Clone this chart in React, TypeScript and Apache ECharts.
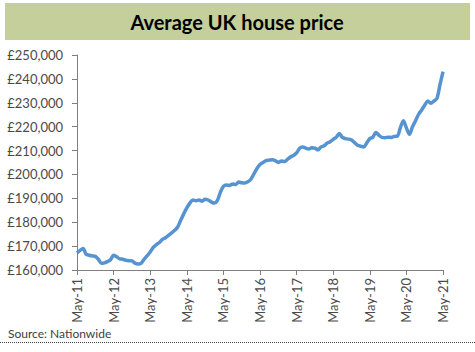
import React, { useEffect, useRef } from "react";
import * as echarts from "echarts";

const MONTHS = ["Jan", "Feb", "Mar", "Apr", "May", "Jun", "Jul", "Aug", "Sep", "Oct", "Nov", "Dec"];
// Monthly categories May-11 .. May-21
const categories: string[] = [];
for (let i = 0; i <= 120; i++) {
  const m = (4 + i) % 12;
  const y = 11 + Math.floor((4 + i) / 12);
  categories.push(`${MONTHS[m]}-${y}`);
}

const prices2011 = [167200, 168200, 169000, 166600, 166200, 165900, 165700, 164500];
const prices2012 = [162800, 163000, 163500, 164300, 166200, 165500, 164700, 164500, 164100, 163900, 163800, 162900];
const prices2013 = [162500, 162800, 164500, 166000, 167500, 169500, 170600, 171500, 172800, 173500, 174500, 175500];
const prices2014 = [176600, 178000, 180800, 183500, 186000, 188000, 189300, 189000, 189300, 188800, 189600, 189300];
const prices2015 = [188500, 188000, 189000, 192500, 195000, 195600, 195400, 196000, 195800, 196800, 196500, 196400];
const prices2016 = [196900, 198000, 200200, 202500, 204200, 205000, 205800, 206000, 206200, 205800, 205000, 205600];
const prices2017 = [205400, 206300, 207300, 208000, 209000, 211000, 211500, 211000, 210600, 211200, 211000, 210300];
const prices2018 = [211500, 212000, 213100, 213700, 214700, 215600, 217100, 215500, 215000, 214800, 214400, 213300];
const prices2019 = [212200, 211800, 211500, 213200, 215000, 215600, 217600, 216400, 215500, 215400, 215600, 215500];
const prices2020 = [215900, 216000, 219500, 222500, 219500, 216800, 220000, 222500, 225200, 227000, 229000, 230700];
const prices2021 = [229800, 230700, 231800, 237500, 243000];

const prices = [
  ...prices2011, ...prices2012, ...prices2013, ...prices2014, ...prices2015, ...prices2016,
  ...prices2017, ...prices2018, ...prices2019, ...prices2020, ...prices2021,
];

const TITLE = "Average UK house price";
const SOURCE = "Source: Nationwide";

export default function App() {
  const ref = useRef<HTMLDivElement>(null);
  useEffect(() => {
    if (!ref.current) return;
    const chart = echarts.init(ref.current, null, { renderer: "svg" });
    const font = "Lato, 'Open Sans', sans-serif";
    chart.setOption({
      animation: false,
      backgroundColor: "#ffffff",
      grid: { left: 77, right: 32, top: 55, bottom: 82, containLabel: false },
      xAxis: {
        type: "category",
        data: categories,
        boundaryGap: false,
        axisLine: { lineStyle: { color: "#7f7f7f", width: 1 } },
        axisTick: { show: true, interval: 11, length: 5, lineStyle: { color: "#7f7f7f" } },
        axisLabel: {
          interval: 11,
          rotate: 90,
          margin: 8,
          color: "#4a4a4a",
          fontSize: 13,
          fontFamily: font,
        },
        splitLine: { show: false },
      },
      yAxis: {
        type: "value",
        min: 160000,
        max: 250000,
        interval: 10000,
        axisLine: { show: true, lineStyle: { color: "#7f7f7f", width: 1 } },
        axisTick: { show: true, length: 5, lineStyle: { color: "#7f7f7f" } },
        axisLabel: {
          margin: 14,
          color: "#4a4a4a",
          fontSize: 13,
          fontFamily: font,
          formatter: (v: number) => "£" + v.toLocaleString("en-GB"),
        },
        splitLine: { show: false },
      },
      series: [
        {
          type: "line",
          data: prices,
          showSymbol: false,
          smooth: 0.3,
          lineStyle: { color: "#5593d1", width: 3.5 },
          itemStyle: { color: "#5593d1" },
        },
      ],
      graphic: [
        {
          type: "rect",
          shape: { x: 5, y: 3, width: 465, height: 37 },
          style: { fill: "#c4cf9b" },
          silent: true,
        },
        {
          type: "text",
          x: 237,
          y: 22,
          style: {
            text: TITLE,
            fill: "#000000",
            font: `bold 20px ${font}`,
            textAlign: "center",
            textVerticalAlign: "middle",
          },
        },
        {
          type: "text",
          x: 8,
          y: 333,
          style: {
            text: SOURCE,
            fill: "#404040",
            font: `12px ${font}`,
            textAlign: "left",
            textVerticalAlign: "middle",
          },
        },
        {
          type: "line",
          shape: { x1: 0, y1: 342.5, x2: 475, y2: 342.5 },
          style: { stroke: "#404040", lineWidth: 1, lineDash: [1, 1] },
        },
      ],
    });
    return () => chart.dispose();
  }, []);
  return <div ref={ref} style={{ width: 475, height: 352, position: "absolute", left: 0, top: 0 }} />;
}
